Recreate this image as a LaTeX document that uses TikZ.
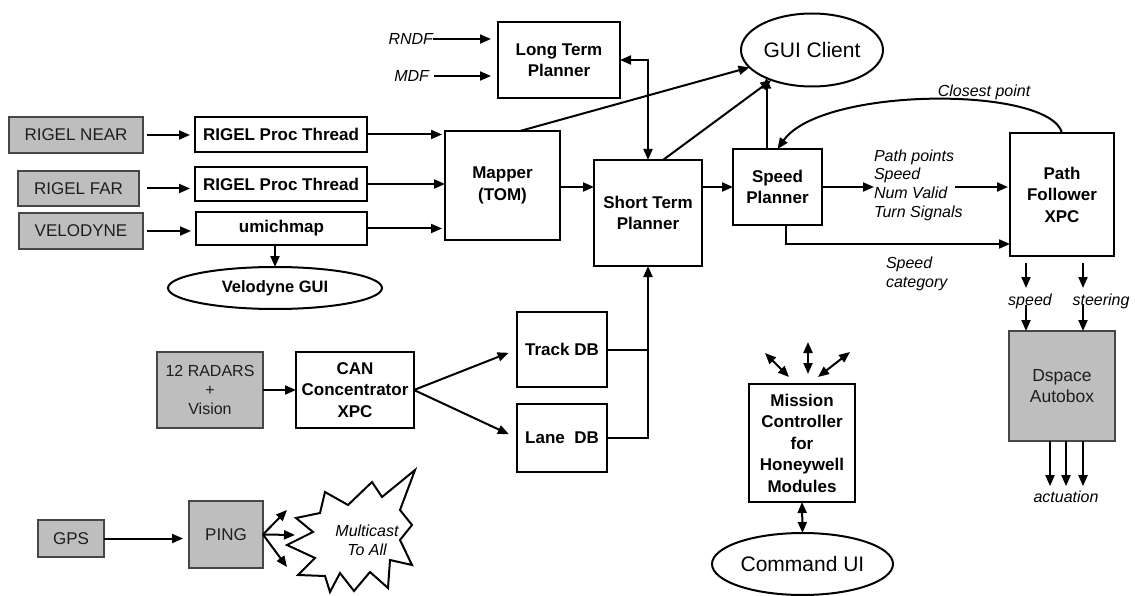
\documentclass[tikz,border=0pt]{standalone}
\usepackage{fontspec}
\setmainfont{Liberation Sans}
\usetikzlibrary{arrows.meta,calc,shapes.geometric}
\definecolor{boxgray}{RGB}{190,190,190}
\definecolor{edgegray}{RGB}{70,70,70}
\definecolor{txtgray}{RGB}{30,30,30}
\begin{document}
\begin{tikzpicture}[x=1pt,y=-1pt,
  every node/.style={inner sep=0pt, outer sep=0pt},
  wbox/.style={draw, line width=2.2pt, fill=white, align=center, font=\fontsize{17}{21.5}\selectfont\bfseries},
  gbox/.style={draw=edgegray, line width=2.2pt, fill=boxgray, align=center, text=txtgray, font=\fontsize{17}{19.5}\selectfont},
  oval/.style={ellipse, draw, line width=2pt, fill=white, align=center},
  lab/.style={font=\fontsize{16}{18.7}\selectfont\itshape, align=left},
  arr/.style={line width=2pt, -{Triangle[length=11pt,width=9pt]}},
  dbl/.style={line width=2pt, {Triangle[length=11pt,width=9pt]}-{Triangle[length=11pt,width=9pt]}},
  ln/.style={line width=2pt}
]
\useasboundingbox (0,0) rectangle (1135,596);

% sensors and threads
\node[gbox, minimum width=134pt, minimum height=36pt] (rnear) at (76,135) {RIGEL NEAR};
\node[gbox, minimum width=121pt, minimum height=35pt] (rfar) at (78.5,188.5) {RIGEL FAR};
\node[gbox, minimum width=124pt, minimum height=36pt] (velo) at (81,231) {VELODYNE};
\node[wbox, minimum width=172pt, minimum height=35pt] (t1) at (281,134.5) {RIGEL Proc Thread};
\node[wbox, minimum width=172pt, minimum height=34pt] (t2) at (281,184) {RIGEL Proc Thread};
\node[wbox, minimum width=171pt, minimum height=33pt] (umich) at (281.5,228.5) {umichmap};
\node[oval, minimum width=214pt, minimum height=42pt, font=\fontsize{16.5}{19}\selectfont\bfseries] (vgui) at (275,288) {Velodyne GUI};

% planners
\node[wbox, minimum width=115pt, minimum height=109pt] (mapper) at (502.5,185.5) {Mapper\\(TOM)};
\node[wbox, minimum width=122pt, minimum height=76pt] (ltp) at (559,60) {Long Term\\Planner};
\node[oval, minimum width=142pt, minimum height=73pt, font=\fontsize{21}{24}\selectfont] (gui) at (812,50) {GUI Client};
\node[wbox, minimum width=108pt, minimum height=106pt] (stp) at (648,213) {Short Term\\Planner};
\node[wbox, minimum width=89pt, minimum height=76pt] (sp) at (777.5,187) {Speed\\Planner};
\node[wbox, minimum width=104pt, minimum height=123pt] (pf) at (1062,194.5) {Path\\Follower\\XPC};
\node[gbox, minimum width=106pt, minimum height=110pt, font=\fontsize{17.5}{21}\selectfont] (ds) at (1062,386) {Dspace\\Autobox};

% databases and radar
\node[wbox, minimum width=90pt, minimum height=75pt] (track) at (562,349.5) {Track DB};
\node[wbox, minimum width=90pt, minimum height=68pt] (lane) at (562,438) {Lane~~DB};
\node[gbox, minimum width=106pt, minimum height=76pt, font=\fontsize{16}{19}\selectfont] (radar) at (210,390) {12 RADARS\\+\\Vision};
\node[wbox, minimum width=118pt, minimum height=76pt] (can) at (355,390) {CAN\\Concentrator\\XPC};

% GPS / PING
\node[gbox, minimum width=66pt, minimum height=37pt] (gps) at (71,538.5) {GPS};
\node[gbox, minimum width=74pt, minimum height=67pt] (ping) at (226,534.5) {PING};

% mission controller
\node[wbox, minimum width=106pt, minimum height=118pt] (mc) at (802,443) {Mission\\Controller\\for\\Honeywell\\Modules};
\node[oval, minimum width=181pt, minimum height=62pt, font=\fontsize{21}{24}\selectfont] (cui) at (802.5,564) {Command UI};

% labels
\node[lab, anchor=east] (rndf) at (433,39) {RNDF};
\node[lab, anchor=east] (mdf) at (429,76) {MDF};
\node[lab, anchor=west] (pl) at (874,185) {Path points\\Speed\\Num Valid\\Turn Signals};
\node[lab, anchor=west] (scat) at (886,274) {Speed\\category};
\node[lab] (clp) at (984,92) {Closest point};
\node[lab] (spd) at (1030,301) {speed};
\node[lab] (str) at (1101,301) {steering};
\node[lab] (act) at (1066,497) {actuation};

% starburst
\draw[line width=2pt, fill=white] (296,518) -- (320,513) -- (325,492) -- (348,505) -- (372,482) -- (382,497) -- (415,470) -- (400,510) -- (412,525) -- (400,540) -- (412,565) -- (390,560) -- (388,588) -- (370,572) -- (354,591) -- (340,573) -- (330,592) -- (325,576) -- (298,575) -- (315,558) -- (287,545) -- (313,532) -- cycle;
\node[lab, align=center] (burst) at (367,540) {Multicast\\To All};

% coordinates for free ends
\coordinate (nv) at (955,187);
\coordinate (scturn) at (786,244);
\coordinate (sx) at (1026,300);
\coordinate (tx) at (1083,300);
\coordinate (m1) at (287,510);
\coordinate (m2) at (295,535);
\coordinate (m3) at (287,567);
\coordinate (l1a) at (765,353);
\coordinate (l1b) at (789,377);
\coordinate (l2a) at (808,342);
\coordinate (l2b) at (808,374);
\coordinate (l3a) at (850,352);
\coordinate (l3b) at (818,377);

% connectors: sensors
\draw[arr, shorten <=4pt, shorten >=5pt] (rnear.east) -- (rnear.east -| t1.west);
\draw[arr, shorten <=8pt, shorten >=5pt] (rfar.east) -- (rfar.east -| t2.west);
\draw[arr, shorten <=4pt, shorten >=5pt] (velo.east) -- (velo.east -| umich.west);
\draw[arr] (vgui.north |- umich.south) -- (vgui.north);
\draw[arr, shorten >=3pt] (t1.east) -- (t1.east -| mapper.west);
\draw[arr] (t2.east) -- (t2.east -| mapper.west);
\draw[arr, shorten >=3pt] (umich.east) -- (umich.east -| mapper.west);

% planners
\draw[arr, shorten >=7pt] (rndf.east) -- (rndf.east -| ltp.west);
\draw[arr, shorten <=5pt, shorten >=7pt] (mdf.east) -- (mdf.east -| ltp.west);
\draw[dbl] (ltp.east) -| (stp.north);
\draw[arr] ([xshift=17.5pt]mapper.north) -- (gui);
\draw[arr] ([xshift=15pt]stp.north) -- (gui);
\draw[arr] ([xshift=-11pt]sp.north) -- ([xshift=-11pt]sp.north |- gui.211);
\draw[arr] (mapper.east |- sp.west) -- (stp.west |- sp.west);
\draw[arr] (stp.east |- sp.west) -- (sp.west);
\draw[arr] (sp.east) -- (sp.east -| pl.west);
\draw[arr, shorten >=2pt] (nv) -- (nv -| pf.west);
\draw[arr] (pf.north) .. controls (1050,86) and (822,86) .. (sp.north);
\draw[arr] (sp.south -| scturn) -- (scturn) -- (scturn -| pf.west);

% speed / steering / actuation
\draw[arr, shorten <=7pt] (pf.south -| sx) -- ([yshift=12pt]sx);
\draw[arr, shorten <=7pt] (pf.south -| tx) -- ([yshift=12pt]tx);
\draw[arr] ([yshift=-5pt]sx) -- (ds.north -| sx);
\draw[arr] ([yshift=-5pt]tx) -- (ds.north -| tx);
\foreach \dx in {-16,0,17}{
  \draw[arr, shorten >=5pt] ($(act.north |- ds.south)+(\dx,0)$) -- ($(act.north)+(\dx,0)$);
}

% radar / databases
\draw[arr] (radar.east) -- (can.west);
\draw[arr, shorten >=9pt] (can.east) -- (track.west);
\draw[arr, shorten >=9pt] (can.east) -- (lane.west);
\draw[ln] (track.east) -- (track.east -| stp.south);
\draw[arr] (lane.east) -| (stp.south);

% GPS / PING
\draw[arr, shorten >=6pt] (gps.east) -- (gps.east -| ping.west);
\draw[arr] (ping.east) -- (m1);
\draw[arr] (ping.east) -- (m2);
\draw[arr] (ping.east) -- (m3);

% mission controller
\draw[dbl] (l1a) -- (l1b);
\draw[dbl] (l2a) -- (l2b);
\draw[dbl] (l3a) -- (l3b);
\draw[dbl] (mc.south) -- (cui.north);
\end{tikzpicture}
\end{document}
